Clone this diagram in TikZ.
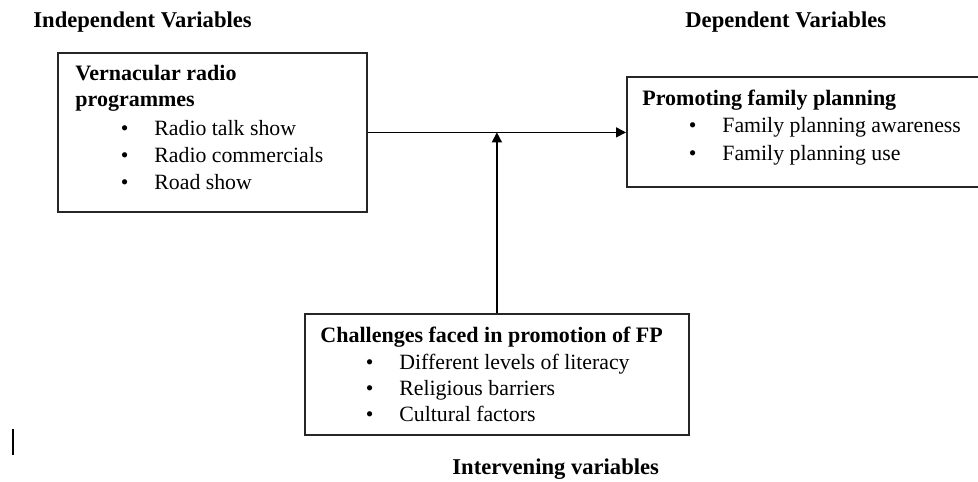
\documentclass[tikz,border=0pt]{standalone}
\usepackage{fontspec}
\setmainfont{Liberation Serif}
\usetikzlibrary{arrows.meta}

\newcommand{\bulletitem}[1]{\llap{\textbullet\hspace{13pt}}#1}

\begin{document}
\begin{tikzpicture}
    [
        x = 0.5pt, y = -0.5pt,
        box/.style = {draw = black!85, line width = 0.9pt, inner sep = 0pt, anchor = north west},
        title/.style = {font = \fontsize{11.3}{13}\selectfont\bfseries, inner sep = 0pt, anchor = base west},
        head/.style = {font = \fontsize{11}{13}\selectfont\bfseries, inner sep = 0pt, anchor = base west},
        entry/.style = {font = \fontsize{10.9}{13}\selectfont, inner sep = 0pt, anchor = base west},
        flow/.style = {line width = 0.8pt, -{Triangle[length = 5pt, width = 5pt]}}
    ]
        \useasboundingbox (0,0) rectangle (978,481);

        % headings of the three groups
        \node[title] (indeptitle) at (33,28) {Independent Variables};
        \node[title] (deptitle) at (685,28) {Dependent Variables};
        \node[title] (intertitle) at (452,474) {Intervening variables};

        % boxes
        \node[box, minimum width = 154.5pt, minimum height = 79.5pt] (indep) at (57,52) {};
        \node[box, minimum width = 182pt, minimum height = 55pt] (dep) at (626,76) {};
        \node[box, minimum width = 192pt, minimum height = 60.5pt] (inter) at (304,313) {};

        % independent variables
        \node[head] (indephead) at (75,81) {Vernacular radio};
        \node[head] (indephead2) at (75,106) {programmes};
        \foreach \t [count = \i from 0] in {Radio talk show, Radio commercials, Road show}
            \node[entry] (indepitem\i) at (154, 135 + 27*\i) {\bulletitem{\t}};

        % dependent variables
        \node[head] (dephead) at (642,105) {Promoting family planning};
        \foreach \t [count = \i from 0] in {Family planning awareness, Family planning use}
            \node[entry] (depitem\i) at (722, 133 + 27.5*\i) {\bulletitem{\t}};

        % intervening variables
        \node[head] (interhead) at (320,342) {Challenges faced in promotion of FP};
        \foreach \t [count = \i from 0] in {Different levels of literacy, Religious barriers, Cultural factors}
            \node[entry] (interitem\i) at (399, 369 + 26*\i) {\bulletitem{\t}};

        % connectors
        \draw[flow] (indep.east) -- (indep.east -| dep.west);
        \draw[flow] (inter.north) -- (inter.north |- indep.east);

        % stray text cursor
        \draw[line width = 1pt] (13,429) -- (13,455);
    \end{tikzpicture}
\end{document}
